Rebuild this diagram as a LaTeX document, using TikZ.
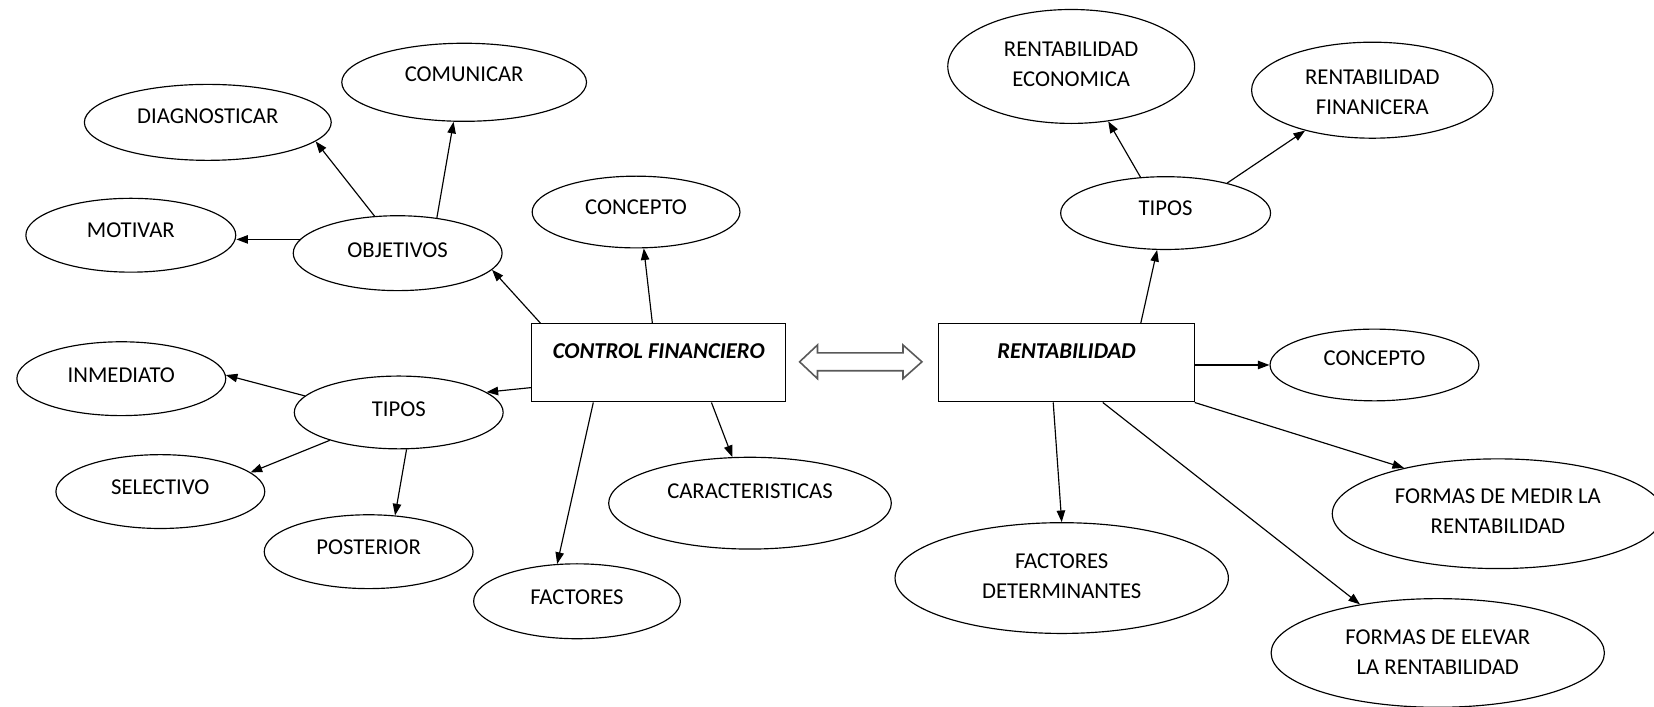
\documentclass[tikz,border=0pt]{standalone}
\usepackage{fontspec}
\setmainfont{Carlito}
\usetikzlibrary{arrows.meta,calc,shapes.geometric}
\newcommand{\elab}[2]{\raisebox{\dimexpr #1pt - 6.9pt\relax}[0pt][0pt]{\makebox[0pt]{#2}}}
\newcommand{\elabb}[3]{\raisebox{\dimexpr #1pt - 21.15pt\relax}[0pt][0pt]{\makebox[0pt]{\parbox[b]{400pt}{\centering #2\\#3}}}}
\tikzset{
  ell/.style={ellipse, draw, line width=1.1pt, inner sep=0pt, font=\fontsize{21.5}{28.5}\selectfont},
  sz/.style 2 args={minimum width=#1pt, minimum height=#2pt},
  boxnode/.style={rectangle, draw, line width=1.1pt, inner sep=0pt, font=\fontsize{21.5}{28.5}\selectfont\bfseries\itshape},
  conn/.style={-{Triangle[length=11pt,width=8pt]}, line width=1.1pt},
  dblarrow/.style={line width=1.5pt, draw=black!65, fill=white, line join=miter}
}
\begin{document}
\begin{tikzpicture}[x=1pt,y=-1pt]
\useasboundingbox (0,0) rectangle (1568,670);
% left side
\node[ell,sz={232}{74}] (com) at (440,78) {\elab{8}{COMUNICAR}};
\node[ell,sz={234}{72}] (dia) at (197,116) {\elab{5.5}{DIAGNOSTICAR}};
\node[ell,sz={199}{70}] (mot) at (124,223) {\elab{5}{MOTIVAR}};
\node[ell,sz={198}{71}] (obj) at (377,240) {\elab{2.5}{OBJETIVOS}};
\node[ell,sz={197}{68}] (con1) at (603,201) {\elab{5}{CONCEPTO}};
\node[boxnode,minimum width=241pt,minimum height=74pt] (ctrl) at (624.5,344) {\elab{11}{CONTROL FINANCIERO}};
\node[ell,sz={198}{70}] (inm) at (115,359) {\elab{3.4}{INMEDIATO}};
\node[ell,sz={198}{69}] (tip1) at (378,391) {\elab{3.5}{TIPOS}};
\node[ell,sz={198}{70}] (sel) at (152,466) {\elab{4}{SELECTIVO}};
\node[ell,sz={198}{70}] (pos) at (349.5,523) {\elab{4}{POSTERIOR}};
\node[ell,sz={196}{71}] (fac) at (547,570) {\elab{4}{FACTORES}};
\node[ell,sz={268}{87}] (car) at (711,477) {\elab{11}{CARACTERISTICAS}};
% right side
\node[ell,sz={234}{108}] (rec) at (1015.5,63) {\elabb{2}{RENTABILIDAD}{ECONOMICA}};
\node[ell,sz={229}{91}] (rfi) at (1301,85.5) {\elabb{-1.5}{RENTABILIDAD}{FINANICERA}};
\node[ell,sz={199}{69}] (tip2) at (1105,202) {\elab{5}{TIPOS}};
\node[boxnode,minimum width=242pt,minimum height=74pt] (rent) at (1011,344) {\elab{11}{RENTABILIDAD}};
\node[ell,sz={198}{68}] (con2) at (1303,346) {\elab{6}{CONCEPTO}};
\node[ell,sz={314}{104}] (med) at (1420,487) {\elabb{2}{FORMAS DE MEDIR LA}{RENTABILIDAD}};
\node[ell,sz={316}{105}] (det) at (1006.5,548) {\elabb{2}{FACTORES}{DETERMINANTES}};
\node[ell,sz={316}{103}] (ele) at (1363,619) {\elabb{0.5}{FORMAS DE ELEVAR}{LA RENTABILIDAD}};
% double arrow between the two boxes
\draw[dblarrow] (758,343) -- (775,327) -- (775,334.5) -- (856,334.5) -- (856,327) -- (874,343)
  -- (856,359) -- (856,351.5) -- (775,351.5) -- (775,359) -- cycle;
% connectors left
\draw[conn] (obj.172) -- (obj.172 -| mot.east);
\draw[conn] (obj.122) -- (dia.350);
\draw[conn] (obj.42) -- (com.255);
\draw[conn] ($(ctrl.north west)+(9,0)$) -- (obj.350);
\draw[conn] ($(ctrl.north west)+(115,0)$) -- (con1.282);
\draw[conn] ($(ctrl.north west)+(0,61)$) -- (tip1.13);
\draw[conn] (tip1.170) -- (inm.2);
\draw[conn] (tip1.202) -- (sel.12);
\draw[conn] (tip1.282) -- (pos.54);
\draw[conn] ($(ctrl.south west)+(59,0)$) -- (fac.118);
\draw[conn] ($(ctrl.south west)+(171,0)$) -- (car.111);
% connectors right
\draw[conn] ($(rent.north west)+(192,0)$) -- (tip2.257);
\draw[conn] (tip2.125) -- (rec.304);
\draw[conn] (tip2.26) -- (rfi.211);
\draw[conn] (rent.east |- con2.west) -- (con2.west);
\draw[conn] ($(rent.south west)+(109,0)$) -- (det.north);
\draw[conn] ($(rent.south west)+(156,0)$) -- (ele.148);
\draw[conn] (rent.south east) -- (med.154);
\end{tikzpicture}
\end{document}
